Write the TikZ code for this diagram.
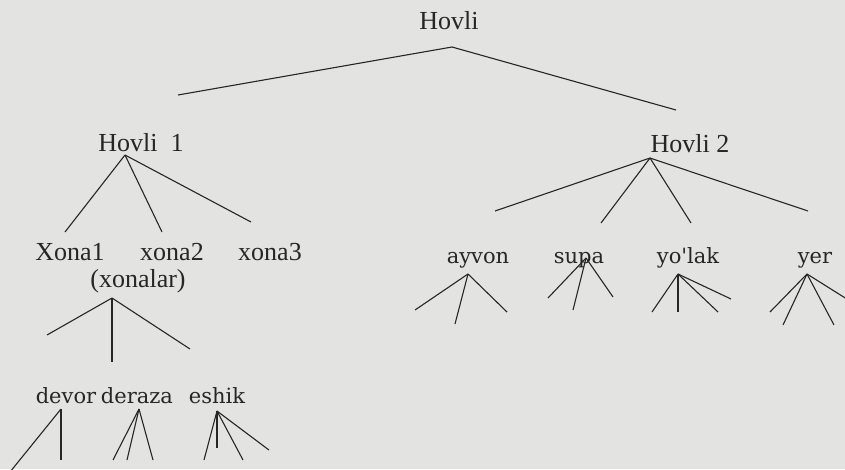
\documentclass[tikz,border=0pt]{standalone}
\usepackage{fontspec}
\setmainfont{Liberation Serif}
\newfontfamily\wideserif{DejaVu Serif}
\definecolor{paper}{HTML}{E3E3E1}
\definecolor{ink}{HTML}{262626}
\begin{document}
\begin{tikzpicture}[x=1pt,y=-1pt,
  tall/.style={inner sep=0pt,anchor=base,text=ink,font=\fontsize{26}{28}\selectfont},
  wide/.style={inner sep=0pt,anchor=base,text=ink,font=\wideserif\fontsize{21}{24}\selectfont},
  branch/.style={draw=ink,line width=1.1pt}]
\useasboundingbox (0,0) rectangle (845,469);
\fill[paper] (0,0) rectangle (845,469);

% --- texts (positioned by their baselines)
\node[tall] (hovli) at (449,29) {Hovli};
\node[tall] (hovliA) at (141,151) {Hovli\ \ 1};
\node[tall] (hovliB) at (690,152) {Hovli 2};
\node[tall] (xona1) at (70,260) {Xona1};
\node[tall] (xona2) at (172,260) {xona2};
\node[tall] (xona3) at (270,260) {xona3};
\node[tall] (xonalar) at (138,287) {(xonalar)};
\node[wide] (devor) at (66,403) {devor};
\node[wide] (deraza) at (137,403) {deraza};
\node[wide] (eshik) at (217,403) {eshik};
\node[wide] (ayvon) at (478,263) {ayvon};
\node[wide] (supa) at (579,263) {supa};
\node[wide] (yolak) at (688,263) {yo'lak};
\node[wide] (yer) at (815,263) {yer};

% --- apices
\coordinate (r0) at (452,47);
\coordinate (a0) at (125,155);
\coordinate (b0) at (650,158);
\coordinate (x0) at (112,298);
\coordinate (dv0) at (61,409);
\coordinate (dr0) at (139,409);
\coordinate (es0) at (217,411);
\coordinate (ay0) at (468,274);
\coordinate (su0) at (586,258);
\coordinate (yo0) at (678,274);
\coordinate (ye0) at (807,274);

% --- free ends
\coordinate (r1) at (178,95);  \coordinate (r2) at (676,110);
\coordinate (a1) at (65,232);  \coordinate (a2) at (162,232); \coordinate (a3) at (251,222);
\coordinate (b1) at (495,211); \coordinate (b2) at (601,223); \coordinate (b3) at (691,223); \coordinate (b4) at (808,211);
\coordinate (x1) at (47,335);  \coordinate (x2) at (112,362); \coordinate (x3) at (190,349);
\coordinate (dv1) at (10,472); \coordinate (dv2) at (61,460);
\coordinate (dr1) at (113,460); \coordinate (dr2) at (127,460); \coordinate (dr3) at (153,460);
\coordinate (es1) at (204,460); \coordinate (es2) at (217,448); \coordinate (es3) at (243,460); \coordinate (es4) at (269,450);
\coordinate (ay1) at (415,310); \coordinate (ay2) at (455,324); \coordinate (ay3) at (507,312);
\coordinate (su1) at (548,298); \coordinate (su2) at (573,310); \coordinate (su3) at (613,297);
\coordinate (yo1) at (652,312); \coordinate (yo2) at (678,312); \coordinate (yo3) at (718,312); \coordinate (yo4) at (731,299);
\coordinate (ye1) at (770,312); \coordinate (ye2) at (783,325); \coordinate (ye3) at (834,325); \coordinate (ye4) at (850,301);

% --- connectors
\foreach \p/\q in {r0/r1,r0/r2,
  a0/a1,a0/a2,a0/a3,
  b0/b1,b0/b2,b0/b3,b0/b4,
  x0/x1,x0/x2,x0/x3,
  dv0/dv1,dv0/dv2,
  dr0/dr1,dr0/dr2,dr0/dr3,
  es0/es1,es0/es2,es0/es3,es0/es4,
  ay0/ay1,ay0/ay2,ay0/ay3,
  su0/su1,su0/su2,su0/su3,
  yo0/yo1,yo0/yo2,yo0/yo3,yo0/yo4,
  ye0/ye1,ye0/ye2,ye0/ye3,ye0/ye4}
  \draw[branch] (\p) -- (\q);
\end{tikzpicture}
\end{document}
